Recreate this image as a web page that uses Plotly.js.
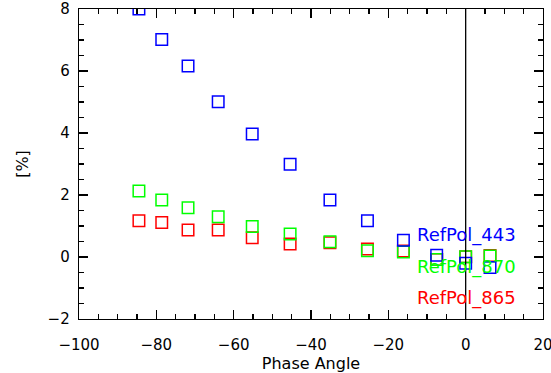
<!DOCTYPE html>
<html>
<head>
<meta charset="utf-8">
<script src="https://cdn.plot.ly/plotly-3.0.1.min.js"></script>
<style>html,body{margin:0;padding:0;background:#fff;}#chart{width:551px;height:373px;}</style>
</head>
<body>
<div id="chart"></div>
<script>
// Phase angles (degrees)
const phaseAngle = [-84.5, -78.6, -71.8, -64.0, -55.2, -45.4, -35.1, -25.4, -16.1, -7.5, 0.0, 6.3];
// Reflectance polarization [%]
const refPol443 = [8.0, 7.02, 6.16, 5.01, 3.97, 2.99, 1.84, 1.17, 0.54, 0.06, -0.2, -0.34];
const refPol870 = [2.13, 1.84, 1.59, 1.30, 0.98, 0.74, 0.49, 0.20, 0.16, -0.08, 0.01, 0.03];
const refPol865 = [1.17, 1.11, 0.87, 0.87, 0.62, 0.42, 0.46, 0.26, 0.19, -0.08, 0.01, 0.05];
const seriesNames = ["RefPol_443", "RefPol_870", "RefPol_865"];
const seriesColors = ["#0000ff", "#00ff00", "#ff0000"];
const xTicks = [-100, -80, -60, -40, -20, 0, 20];
const yTicks = [-2, 0, 2, 4, 6, 8];
const fmt = v => (v < 0 ? '\u2212' + Math.abs(v) : String(v));

function mk(y, c) {
  return {
    x: phaseAngle, y: y, type: 'scatter', mode: 'markers',
    marker: {symbol: 'square-open', size: 11.5, color: c, line: {width: 1.5, color: c}},
    showlegend: false, hoverinfo: 'skip'
  };
}
const data = [mk(refPol865, seriesColors[2]), mk(refPol870, seriesColors[1]), mk(refPol443, seriesColors[0])];

const tickFont = {family: 'DejaVu Sans, sans-serif', size: 15, color: '#000'};
const layout = {
  width: 551, height: 373,
  margin: {l: 79, r: 8, t: 9, b: 54},
  paper_bgcolor: '#fff', plot_bgcolor: '#fff',
  showlegend: false,
  xaxis: {
    range: [-100, 20], tickvals: xTicks, ticktext: xTicks.map(fmt),
    showgrid: false, zeroline: false, ticklabeloverflow: 'allow',
    showline: true, linecolor: '#000', linewidth: 1.3, mirror: 'allticks',
    ticks: 'inside', ticklen: 9, tickwidth: 1.2, tickcolor: '#000',
    minor: {dtick: 5, ticks: 'inside', ticklen: 5, tickwidth: 1.2, tickcolor: '#000', showgrid: false},
    tickfont: tickFont, ticklabelstandoff: 12,
    title: {text: 'Phase Angle', font: {family: 'DejaVu Sans, sans-serif', size: 16, color: '#000'}, standoff: 6}
  },
  yaxis: {
    range: [-2, 8], tickvals: yTicks, ticktext: yTicks.map(fmt),
    showgrid: false, zeroline: false, ticklabeloverflow: 'allow',
    showline: true, linecolor: '#000', linewidth: 1.3, mirror: 'allticks',
    ticks: 'inside', ticklen: 9, tickwidth: 1.2, tickcolor: '#000',
    minor: {dtick: 0.5, ticks: 'inside', ticklen: 5, tickwidth: 1.2, tickcolor: '#000', showgrid: false},
    tickfont: tickFont, ticklabelstandoff: 5,
    title: {text: '[%]', font: {family: 'DejaVu Sans, sans-serif', size: 16, color: '#000'}, standoff: 15}
  },
  shapes: [{type: 'line', xref: 'x', yref: 'paper', x0: 0, x1: 0, y0: 0, y1: 1, line: {color: '#000', width: 1.3}}],
  annotations: seriesNames.map((n, i) => ({
    text: n, xref: 'x', yref: 'y', x: -13.1, y: [0.71, -0.31, -1.33][i],
    xanchor: 'left', yanchor: 'middle', showarrow: false,
    font: {family: 'DejaVu Sans, sans-serif', size: 18, color: seriesColors[i]}
  }))
};
Plotly.newPlot('chart', data, layout, {staticPlot: true, displayModeBar: false});
</script>
</body>
</html>
